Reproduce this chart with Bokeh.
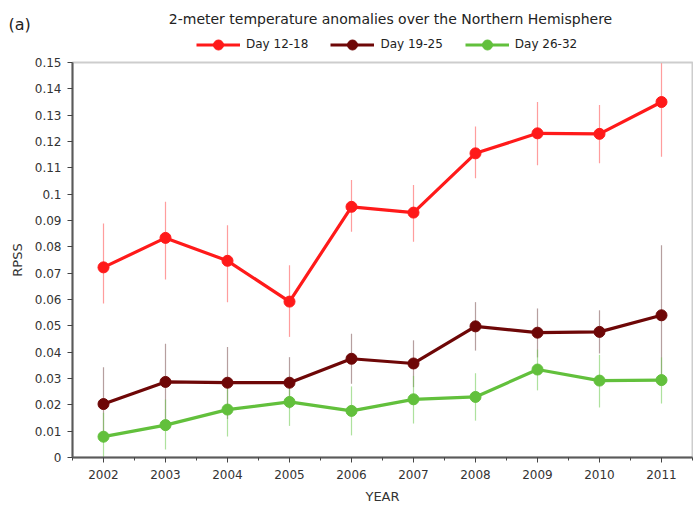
from bokeh.plotting import figure
from bokeh.models import (FixedTicker, Legend, LegendItem, Label, Range1d, BoxAnnotation)
from bokeh.embed import file_html
from bokeh.resources import INLINE

years = [2002, 2003, 2004, 2005, 2006, 2007, 2008, 2009, 2010, 2011]
year_labels = ["2002", "2003", "2004", "2005", "2006", "2007", "2008", "2009", "2010", "2011"]

series_names = ["Day 12-18", "Day 19-25", "Day 26-32"]

day12_18 = [0.0722, 0.0834, 0.0747, 0.0592, 0.0952, 0.0930, 0.1155, 0.1231, 0.1229, 0.1350]
day12_18_low = [0.0585, 0.0676, 0.0590, 0.0458, 0.0857, 0.0819, 0.1060, 0.1110, 0.1117, 0.1142]
day12_18_high = [0.0889, 0.0971, 0.0882, 0.0730, 0.1054, 0.1035, 0.1257, 0.1350, 0.1339, 0.1497]

day19_25 = [0.0203, 0.0287, 0.0284, 0.0284, 0.0375, 0.0357, 0.0498, 0.0474, 0.0477, 0.0540]
day19_25_low = [0.0057, 0.0140, 0.0146, 0.0185, 0.0280, 0.0267, 0.0406, 0.0380, 0.0395, 0.0274]
day19_25_high = [0.0343, 0.0432, 0.0420, 0.0381, 0.0470, 0.0445, 0.0590, 0.0566, 0.0559, 0.0806]

day26_32 = [0.0079, 0.0123, 0.0182, 0.0211, 0.0177, 0.0221, 0.0230, 0.0334, 0.0292, 0.0294]
day26_32_low = [0.0000, 0.0030, 0.0080, 0.0120, 0.0084, 0.0129, 0.0140, 0.0255, 0.0190, 0.0205]
day26_32_high = [0.0170, 0.0220, 0.0280, 0.0300, 0.0270, 0.0310, 0.0320, 0.0410, 0.0390, 0.0380]

y_ticks = [0.0, 0.01, 0.02, 0.03, 0.04, 0.05, 0.06, 0.07, 0.08, 0.09, 0.10, 0.11, 0.12, 0.13, 0.14, 0.15]
y_tick_labels = ["0", "0.01", "0.02", "0.03", "0.04", "0.05", "0.06", "0.07", "0.08", "0.09",
                 "0.1", "0.11", "0.12", "0.13", "0.14", "0.15"]
x_minor_ticks = [2001.5, 2002.5, 2003.5, 2004.5, 2005.5, 2006.5, 2007.5, 2008.5, 2009.5, 2010.5, 2011.5]

# ---- layout (pixels) ----
W, H = 693, 509
AX_LEFT = 72                # pixel column of the y axis
AX_TOP = 62                 # pixel row of the top of the data area
AX_BOTTOM = 457             # pixel row of the x axis
X0, X1 = 2001.5, 2011.5     # data area in x
Y0, Y1 = 0.0, 0.15          # data area in y
px_per_year = 62.0
px_per_unit = (AX_BOTTOM - AX_TOP) / (Y1 - Y0)
x_start = X0 - AX_LEFT / px_per_year
x_end = x_start + W / px_per_year
y_start = Y0 - (H - AX_BOTTOM) / px_per_unit
y_end = Y0 + AX_BOTTOM / px_per_unit


def sy(page_y):
    """page row -> screen units (from the frame bottom, upward)"""
    return H - page_y


FONT = "DejaVu Sans"
TXT = "#333333"

p = figure(width=W, height=H, output_backend="svg", toolbar_location=None,
           x_range=Range1d(x_start, x_end), y_range=Range1d(y_start, y_end),
           min_border_left=0, min_border_right=0, min_border_top=0, min_border_bottom=0)
p.background_fill_color = "white"
p.border_fill_color = "white"
p.grid.visible = False
p.outline_line_color = None

colors = ["#ff1a1a", "#6e0707", "#62c03c"]
err_colors = ["#ff4d4d", "#7a5050", "#6cc84c"]
vals = [day12_18, day19_25, day26_32]
lows = [day12_18_low, day19_25_low, day26_32_low]
highs = [day12_18_high, day19_25_high, day26_32_high]

# frame border around data area
p.add_layout(BoxAnnotation(left=X0, right=X1, bottom=Y0, top=Y1, fill_alpha=0,
                           line_color="#5a5a5a", line_width=2, level="underlay"))

items = []
for i in range(3):
    p.segment(x0=years, y0=lows[i], x1=years, y1=highs[i], line_color=err_colors[i],
              line_width=1.2, line_alpha=0.55)
for i in range(3):
    ln = p.line(years, vals[i], line_color=colors[i], line_width=3.2)
    sc = p.scatter(years, vals[i], size=11, fill_color=colors[i], line_color=colors[i])
    items.append(LegendItem(label=series_names[i], renderers=[ln, sc]))

LEG_H = 25
legend = Legend(items=items, orientation="horizontal", location=(196, sy(44 + LEG_H / 2)),
                border_line_color=None, background_fill_alpha=0,
                label_text_font=FONT, label_text_font_size="12px", label_text_color="#222222",
                glyph_width=44, glyph_height=LEG_H, label_height=LEG_H, label_standoff=6,
                spacing=22, padding=0, margin=0)
p.add_layout(legend, "center")

p.xaxis.ticker = FixedTicker(ticks=years, minor_ticks=x_minor_ticks)
p.xaxis.major_label_overrides = {y: l for y, l in zip(years, year_labels)}
p.xaxis.bounds = (X0, X1)
p.xaxis.fixed_location = Y0
p.yaxis.ticker = FixedTicker(ticks=y_ticks)
p.yaxis.major_label_overrides = {t: l for t, l in zip(y_ticks, y_tick_labels)}
p.yaxis.minor_tick_line_color = None
p.yaxis.bounds = (Y0, Y1)
p.yaxis.fixed_location = X0

for ax in (p.xaxis[0], p.yaxis[0]):
    ax.axis_line_color = "#5a5a5a"
    ax.axis_line_width = 2
    ax.major_tick_line_color = "#444444"
    ax.major_tick_in = 0
    ax.major_tick_out = 5
    ax.minor_tick_in = 0
    ax.minor_tick_out = 3
    ax.major_label_text_font = FONT
    ax.major_label_text_font_size = "12px"
    ax.major_label_text_color = TXT
    ax.axis_label_text_font = FONT
    ax.axis_label_text_font_size = "13px"
    ax.axis_label_text_font_style = "normal"
    ax.axis_label_text_color = TXT
p.xaxis[0].minor_tick_line_color = "#444444"

p.xaxis.axis_label = "YEAR"
p.yaxis.axis_label = "RPSS"
p.xaxis.major_label_standoff = 7
p.xaxis.axis_label_standoff = 7
p.yaxis.major_label_standoff = 6
p.yaxis.axis_label_standoff = 7

title = Label(x=390, y=sy(18), x_units="screen", y_units="screen",
              text="2-meter temperature anomalies over the Northern Hemisphere",
              text_font=FONT, text_font_size="14px", text_color="#222222",
              text_align="center", text_baseline="middle")
p.add_layout(title)

lab = Label(x=8, y=sy(24), x_units="screen", y_units="screen", text="(a)",
            text_font=FONT, text_font_size="16px", text_color="#222222",
            text_align="left", text_baseline="middle")
p.add_layout(lab)

open("out.html", "w").write(file_html(p, INLINE))
